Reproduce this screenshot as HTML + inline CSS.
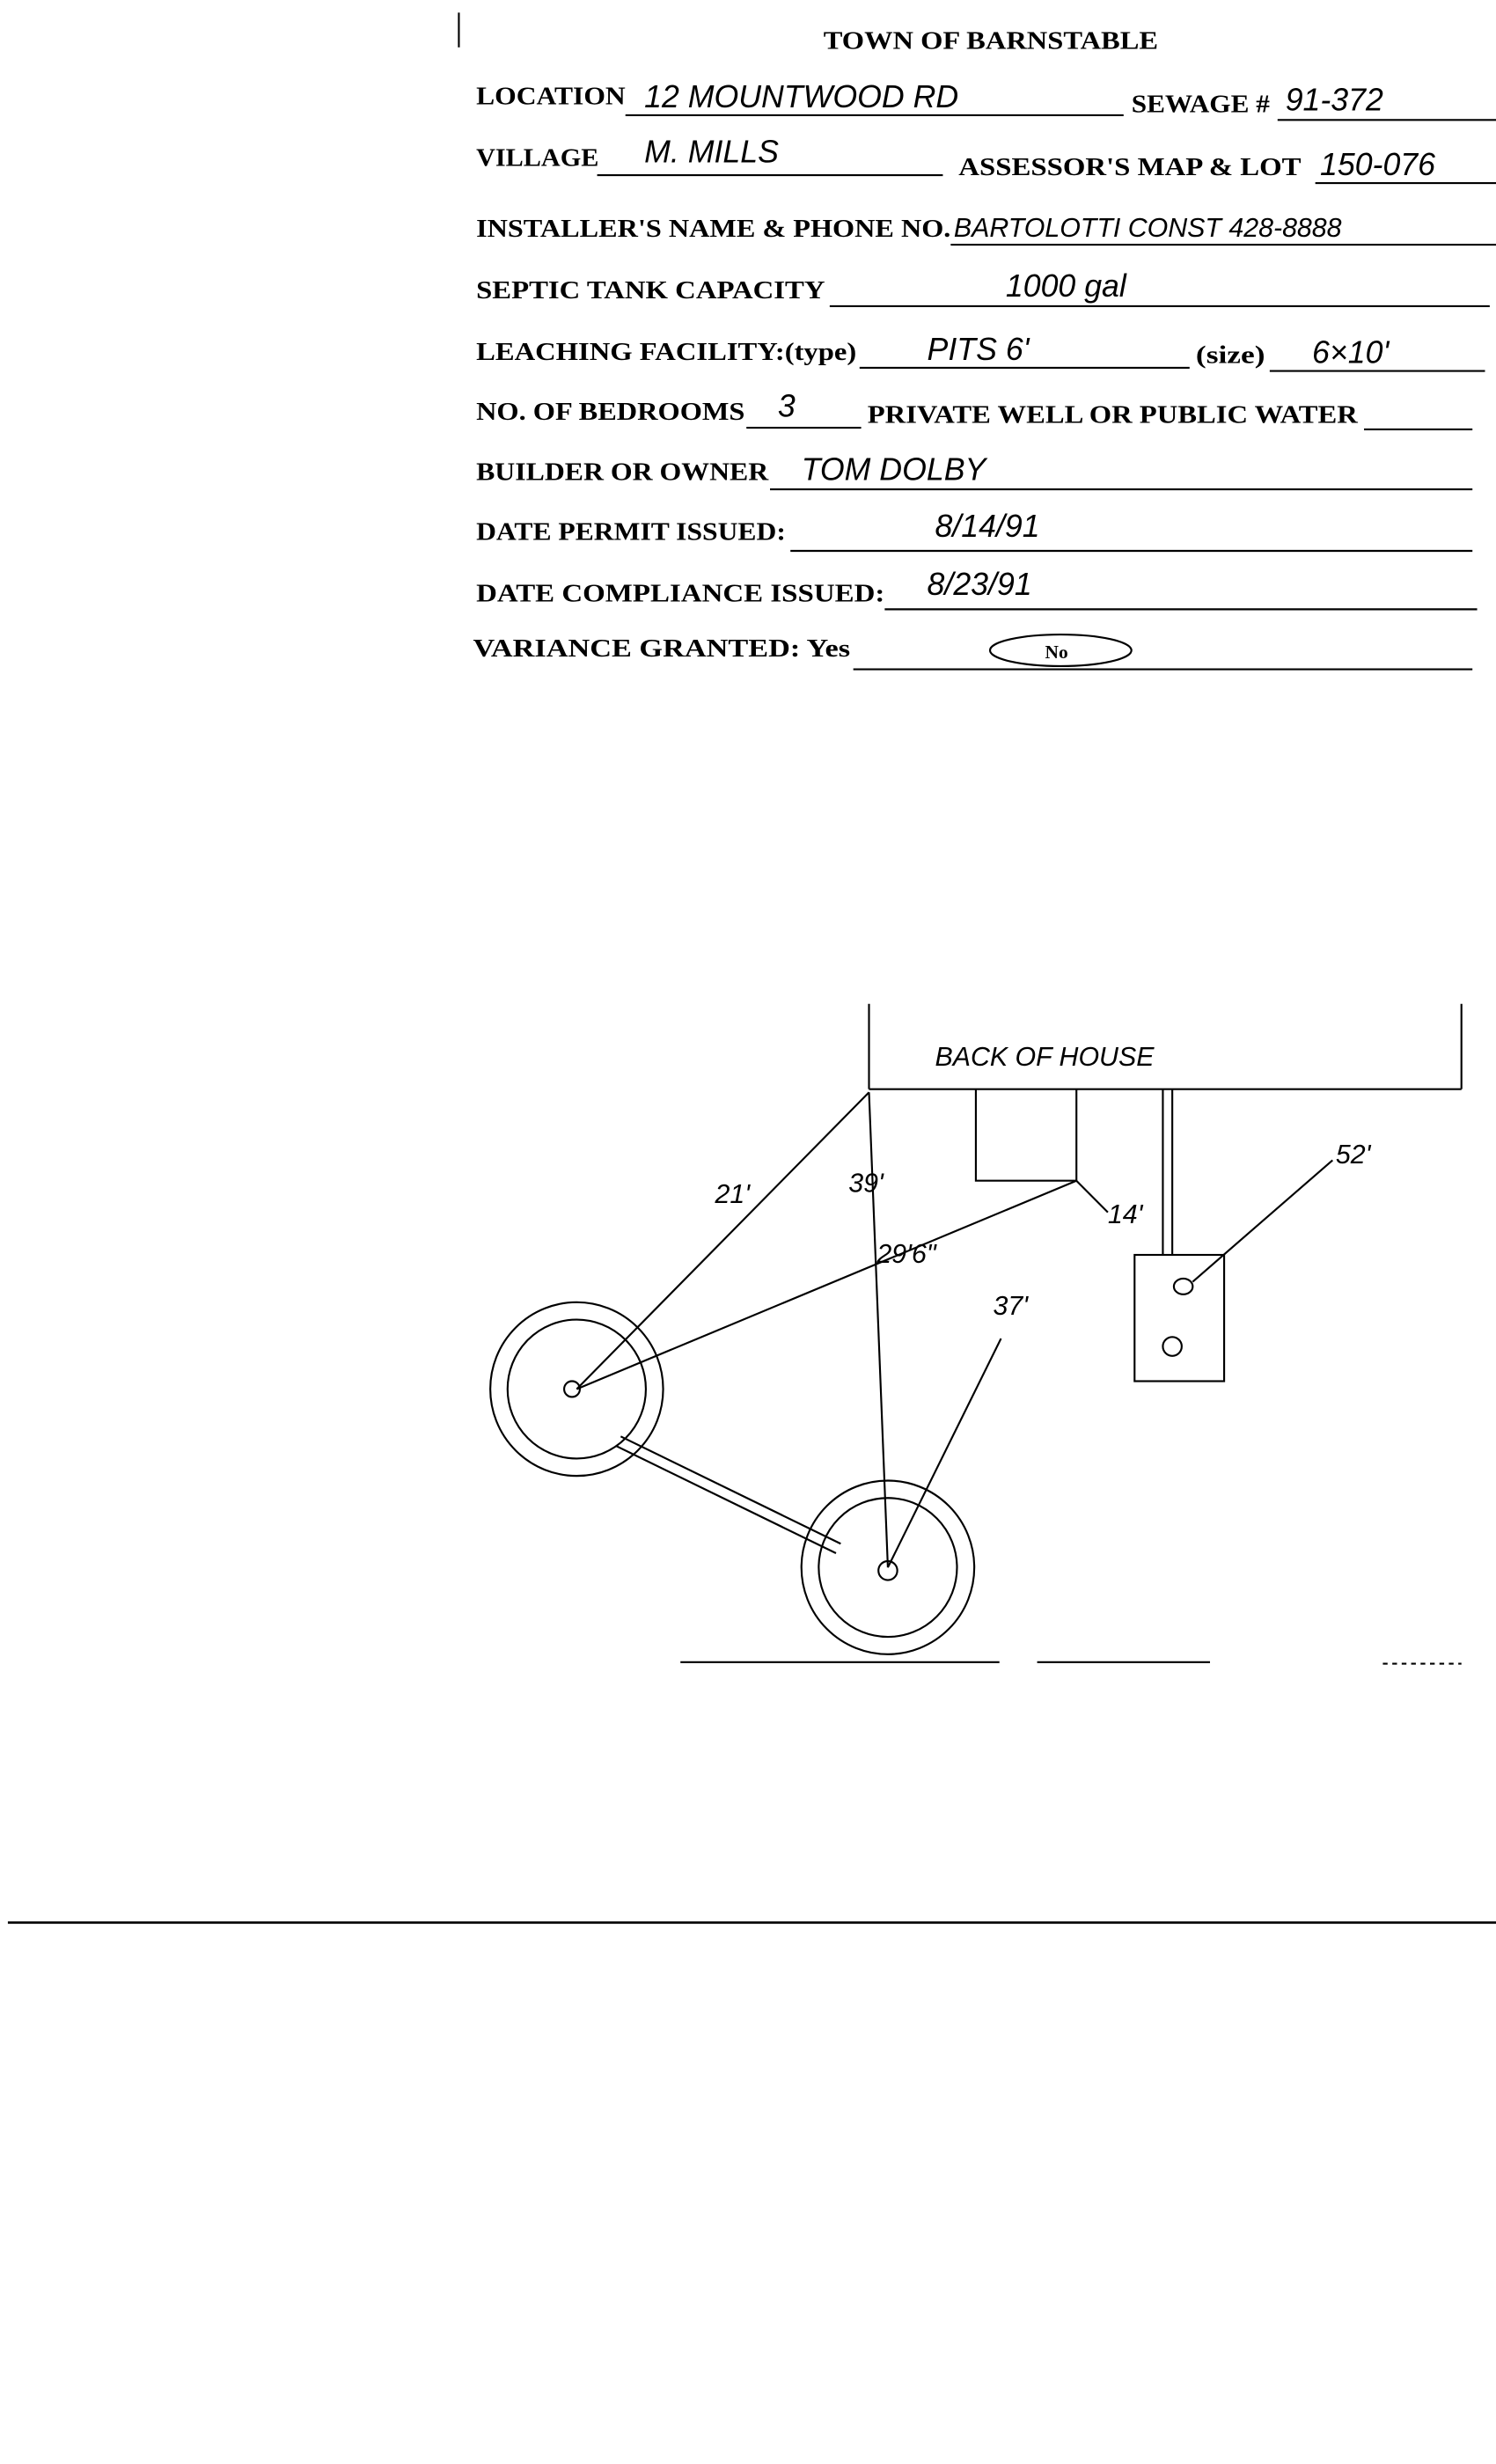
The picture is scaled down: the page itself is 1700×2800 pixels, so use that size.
<!DOCTYPE html>
<html><head><meta charset="utf-8"><style>
html,body{margin:0;padding:0;background:#fff;}
svg{display:block;}
.t{font-family:"Liberation Serif",serif;font-size:16px;font-weight:bold;fill:#000;}
.h{font-family:"Liberation Sans",sans-serif;font-size:20px;fill:#000;font-style:italic;}
.s{font-family:"Liberation Sans",sans-serif;font-size:17px;fill:#000;font-style:italic;}
</style></head><body>
<svg width="1700" height="2800" viewBox="0 0 952 1561" preserveAspectRatio="none" xmlns="http://www.w3.org/2000/svg">
<rect width="952" height="1561" fill="#fff"/>
<g stroke="#000" stroke-width="1.2" fill="none">
<line x1="292" y1="8" x2="292" y2="30"/>
<line x1="398" y1="73" x2="715" y2="73"/><line x1="813" y1="76" x2="952" y2="76"/>
<line x1="380" y1="111" x2="600" y2="111"/><line x1="837" y1="116" x2="952" y2="116"/>
<line x1="605" y1="155" x2="952" y2="155"/>
<line x1="528" y1="194" x2="948" y2="194"/>
<line x1="547" y1="233" x2="757" y2="233"/><line x1="808" y1="235" x2="945" y2="235"/>
<line x1="475" y1="271" x2="548" y2="271"/><line x1="868" y1="272" x2="937" y2="272"/>
<line x1="490" y1="310" x2="937" y2="310"/>
<line x1="503" y1="349" x2="937" y2="349"/>
<line x1="563" y1="386" x2="940" y2="386"/>
<line x1="543" y1="424" x2="937" y2="424"/>
<ellipse cx="675" cy="412" rx="45" ry="10"/>
<line x1="5" y1="1218" x2="952" y2="1218" stroke-width="1.5"/>
<line x1="553" y1="636" x2="553" y2="690"/>
<line x1="553" y1="690" x2="930" y2="690"/>
<line x1="930" y1="690" x2="930" y2="636"/>
<polyline points="621,690 621,748 685,748 685,690"/>
<line x1="740" y1="690" x2="740" y2="795"/><line x1="746" y1="690" x2="746" y2="795"/>
<rect x="722" y="795" width="57" height="80"/>
<ellipse cx="753" cy="815" rx="6" ry="5"/><ellipse cx="746" cy="853" rx="6" ry="6"/>
<line x1="759" y1="812" x2="848" y2="735"/>
<circle cx="367" cy="880" r="55"/><circle cx="367" cy="880" r="44"/>
<circle cx="565" cy="993" r="55"/><circle cx="565" cy="993" r="44"/>
<ellipse cx="364" cy="880" rx="5" ry="5"/><ellipse cx="565" cy="995" rx="6" ry="6"/>
<line x1="367" y1="880" x2="553" y2="692"/>
<line x1="367" y1="880" x2="685" y2="748"/>
<line x1="685" y1="748" x2="705" y2="768"/>
<line x1="565" y1="993" x2="553" y2="692"/>
<line x1="565" y1="993" x2="637" y2="848"/>
<line x1="395" y1="910" x2="535" y2="978"/><line x1="392" y1="916" x2="532" y2="984"/>
<line x1="433" y1="1053" x2="636" y2="1053"/><line x1="660" y1="1053" x2="770" y2="1053"/>
<line x1="880" y1="1054" x2="930" y2="1054" stroke-dasharray="3 3"/>
</g>
<text class="t" x="524" y="31" textLength="213" lengthAdjust="spacingAndGlyphs">TOWN OF BARNSTABLE</text>
<text class="t" x="303" y="66" textLength="95" lengthAdjust="spacingAndGlyphs">LOCATION</text><text class="h" x="410" y="68">12 MOUNTWOOD RD</text>
<text class="t" x="720" y="71" textLength="88" lengthAdjust="spacingAndGlyphs">SEWAGE #</text><text class="h" x="818" y="70">91-372</text>
<text class="t" x="303" y="105" textLength="78" lengthAdjust="spacingAndGlyphs">VILLAGE</text><text class="h" x="410" y="103">M. MILLS</text>
<text class="t" x="610" y="111" textLength="218" lengthAdjust="spacingAndGlyphs">ASSESSOR'S  MAP &amp; LOT</text><text class="h" x="840" y="111">150-076</text>
<text class="t" x="303" y="150" textLength="302" lengthAdjust="spacingAndGlyphs">INSTALLER'S NAME &amp; PHONE NO.</text><text class="s" x="607" y="150">BARTOLOTTI CONST 428-8888</text>
<text class="t" x="303" y="189" textLength="222" lengthAdjust="spacingAndGlyphs">SEPTIC TANK CAPACITY</text><text class="h" x="640" y="188">1000 gal</text>
<text class="t" x="303" y="228" textLength="242" lengthAdjust="spacingAndGlyphs">LEACHING FACILITY:(type)</text><text class="h" x="590" y="228">PITS  6'</text>
<text class="t" x="761" y="230" textLength="44" lengthAdjust="spacingAndGlyphs">(size)</text><text class="h" x="835" y="230">6×10'</text>
<text class="t" x="303" y="266" textLength="171" lengthAdjust="spacingAndGlyphs">NO. OF BEDROOMS</text><text class="h" x="495" y="264">3</text>
<text class="t" x="552" y="268" textLength="312" lengthAdjust="spacingAndGlyphs">PRIVATE WELL OR PUBLIC WATER</text>
<text class="t" x="303" y="304" textLength="186" lengthAdjust="spacingAndGlyphs">BUILDER OR OWNER</text><text class="h" x="510" y="304">TOM  DOLBY</text>
<text class="t" x="303" y="342" textLength="197" lengthAdjust="spacingAndGlyphs">DATE PERMIT ISSUED:</text><text class="h" x="595" y="340">8/14/91</text>
<text class="t" x="303" y="381" textLength="260" lengthAdjust="spacingAndGlyphs">DATE  COMPLIANCE ISSUED:</text><text class="h" x="590" y="377">8/23/91</text>
<text class="t" x="301" y="416" textLength="240" lengthAdjust="spacingAndGlyphs">VARIANCE GRANTED:  Yes</text><text class="t" x="665" y="417" style="font-size:12px">No</text>
<text class="s" x="595" y="675">BACK OF HOUSE</text>
<text class="s" x="455" y="762">21'</text><text class="s" x="540" y="755">39'</text>
<text class="s" x="558" y="800">29'6"</text><text class="s" x="705" y="775">14'</text>
<text class="s" x="632" y="833">37'</text><text class="s" x="850" y="737">52'</text>
</svg>
</body></html>
